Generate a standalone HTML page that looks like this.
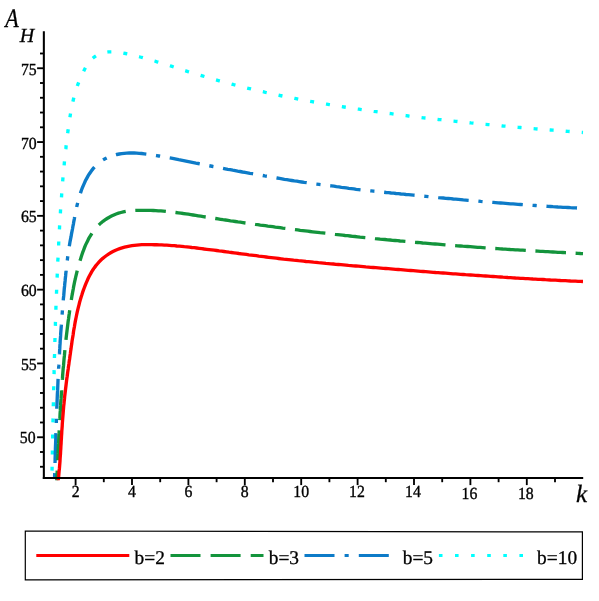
<!DOCTYPE html>
<html><head><meta charset="utf-8"><title>A_H vs k</title>
<style>html,body{margin:0;padding:0;background:#fff}body{width:599px;height:601px;overflow:hidden;font-family:"Liberation Serif",serif}</style>
</head><body>
<svg width="599" height="601" viewBox="0 0 599 601" style="display:block" text-rendering="geometricPrecision">
<rect width="599" height="601" fill="#fff"/>
<defs><clipPath id="cp"><rect x="44" y="20" width="540" height="460.2"/></clipPath></defs>
<g clip-path="url(#cp)"><path d="M51.8,481.0 L51.9,478.5 L51.9,476.0 L52.0,473.5 L52.0,471.0 L52.1,468.5 L52.1,466.0 L52.2,463.5 L52.2,461.0 L52.3,458.5 L52.3,456.0 L52.4,453.5 L52.4,450.9 L52.5,448.4 L52.5,445.9 L52.6,443.4 L52.6,440.9 L52.7,438.4 L52.7,435.9 L52.7,433.4 L52.8,430.9 L52.8,428.4 L52.9,425.9 L52.9,423.4 L53.0,420.9 L53.1,418.4 L53.1,415.9 L53.2,413.4 L53.2,410.9 L53.3,408.4 L53.3,405.9 L53.4,403.4 L53.4,400.9 L53.5,398.4 L53.5,395.9 L53.6,393.4 L53.6,390.9 L53.7,388.4 L53.8,385.9 L53.8,383.4 L53.9,380.9 L53.9,378.4 L54.0,375.9 L54.1,373.4 L54.1,370.9 L54.2,368.4 L54.2,365.9 L54.3,363.4 L54.4,360.9 L54.4,358.4 L54.5,355.9 L54.6,353.4 L54.6,350.9 L54.7,348.3 L54.8,345.8 L54.8,343.3 L54.9,340.8 L55.0,338.3 L55.1,335.8 L55.1,333.3 L55.2,330.8 L55.3,328.3 L55.4,325.8 L55.4,323.3 L55.5,320.8 L55.6,318.3 L55.7,315.8 L55.8,313.3 L55.9,310.8 L55.9,308.3 L56.0,305.8 L56.1,303.3 L56.2,300.8 L56.3,298.3 L56.4,295.8 L56.5,293.3 L56.6,290.8 L56.7,288.3 L56.8,285.8 L56.9,283.3 L57.0,280.8 L57.1,278.3 L57.2,275.8 L57.3,273.3 L57.4,270.8 L57.5,268.3 L57.6,265.8 L57.7,263.3 L57.8,260.8 L58.0,258.3 L58.1,255.8 L58.2,253.3 L58.3,250.8 L58.4,248.3 L58.6,245.8 L58.7,243.3 L58.8,240.8 L58.9,238.3 L59.1,235.8 L59.2,233.3 L59.3,230.8 L59.5,228.3 L59.6,225.8 L59.8,223.3 L59.9,220.8 L60.1,218.3 L60.2,215.8 L60.4,213.3 L60.5,210.8 L60.7,208.3 L60.9,205.8 L61.0,203.3 L61.2,200.8 L61.4,198.3 L61.6,195.8 L61.7,193.3 L61.9,190.8 L62.1,188.3 L62.3,185.8 L62.5,183.3 L62.7,180.9 L62.9,178.4 L63.1,175.9 L63.4,173.4 L63.6,170.9 L63.8,168.4 L64.1,165.9 L64.3,163.4 L64.5,160.9 L64.8,158.4 L65.0,155.9 L65.3,153.4 L65.6,151.0 L65.9,148.5 L66.1,146.0 L66.4,143.5 L66.7,141.0 L67.0,138.5 L67.3,136.0 L67.6,133.6 L68.0,131.1 L68.3,128.6 L68.6,126.1 L69.0,123.6 L69.3,121.2 L69.7,118.7 L70.1,116.2 L70.5,113.7 L70.9,111.3 L71.4,108.8 L71.9,106.4 L72.4,103.9 L72.9,101.5 L73.5,99.0 L74.1,96.6 L74.8,94.2 L75.5,91.8 L76.2,89.4 L77.0,87.0 L77.8,84.6 L78.7,82.3 L79.6,80.0 L80.5,77.7 L81.6,75.4 L82.6,73.1 L83.8,70.9 L84.9,68.7 L86.2,66.5 L87.5,64.4 L89.0,62.3 L90.6,60.4 L92.3,58.6 L94.2,57.0 L96.3,55.6 L98.5,54.5 L100.8,53.5 L103.2,52.8 L105.7,52.3 L108.2,51.9 L110.7,51.8 L113.2,51.8 L115.7,51.9 L118.2,52.2 L120.6,52.6 L123.1,53.0 L125.5,53.5 L128.0,54.0 L130.4,54.6 L132.9,55.1 L135.3,55.7 L137.7,56.3 L140.2,57.0 L142.6,57.6 L145.0,58.3 L147.4,58.9 L149.8,59.6 L152.2,60.3 L154.6,61.0 L157.0,61.8 L159.4,62.5 L161.8,63.2 L164.2,64.0 L166.6,64.7 L169.0,65.5 L171.3,66.2 L173.7,67.0 L176.1,67.8 L178.5,68.5 L180.9,69.3 L183.3,70.1 L185.7,70.8 L188.0,71.6 L190.4,72.3 L192.8,73.0 L195.2,73.8 L197.6,74.5 L200.0,75.2 L202.4,75.9 L204.8,76.6 L207.2,77.3 L209.6,78.0 L212.0,78.7 L214.4,79.4 L216.8,80.1 L219.3,80.8 L221.7,81.4 L224.1,82.1 L226.5,82.7 L228.9,83.4 L231.3,84.0 L233.8,84.7 L236.2,85.3 L238.6,85.9 L241.0,86.5 L243.5,87.1 L245.9,87.7 L248.3,88.3 L250.8,88.9 L253.2,89.5 L255.6,90.1 L258.1,90.6 L260.5,91.2 L262.9,91.7 L265.4,92.3 L267.8,92.8 L270.3,93.4 L272.7,93.9 L275.2,94.4 L277.6,94.9 L280.1,95.5 L282.5,96.0 L285.0,96.5 L287.4,97.0 L289.9,97.5 L292.3,97.9 L294.8,98.4 L297.2,98.9 L299.7,99.4 L302.2,99.8 L304.6,100.3 L307.1,100.7 L309.6,101.2 L312.0,101.6 L314.5,102.1 L316.9,102.5 L319.4,102.9 L321.9,103.4 L324.3,103.8 L326.8,104.2 L329.3,104.6 L331.8,105.0 L334.2,105.4 L336.7,105.8 L339.2,106.2 L341.6,106.6 L344.1,107.0 L346.6,107.4 L349.1,107.8 L351.5,108.1 L354.0,108.5 L356.5,108.9 L359.0,109.2 L361.4,109.6 L363.9,110.0 L366.4,110.3 L368.9,110.7 L371.3,111.0 L373.8,111.4 L376.3,111.7 L378.8,112.1 L381.3,112.4 L383.7,112.7 L386.2,113.1 L388.7,113.4 L391.2,113.7 L393.7,114.1 L396.1,114.4 L398.6,114.7 L401.1,115.0 L403.6,115.3 L406.1,115.6 L408.6,116.0 L411.0,116.3 L413.5,116.6 L416.0,116.9 L418.5,117.2 L421.0,117.5 L423.5,117.8 L426.0,118.0 L428.4,118.3 L430.9,118.6 L433.4,118.9 L435.9,119.2 L438.4,119.5 L440.9,119.7 L443.4,120.0 L445.9,120.3 L448.3,120.6 L450.8,120.8 L453.3,121.1 L455.8,121.3 L458.3,121.6 L460.8,121.9 L463.3,122.1 L465.8,122.4 L468.3,122.6 L470.8,122.9 L473.2,123.1 L475.7,123.4 L478.2,123.6 L480.7,123.9 L483.2,124.1 L485.7,124.3 L488.2,124.6 L490.7,124.8 L493.2,125.1 L495.7,125.3 L498.2,125.5 L500.7,125.7 L503.1,126.0 L505.6,126.2 L508.1,126.4 L510.6,126.6 L513.1,126.9 L515.6,127.1 L518.1,127.3 L520.6,127.5 L523.1,127.7 L525.6,127.9 L528.1,128.2 L530.6,128.4 L533.1,128.6 L535.6,128.8 L538.1,129.0 L540.6,129.2 L543.0,129.4 L545.5,129.6 L548.0,129.8 L550.5,130.0 L553.0,130.2 L555.5,130.4 L558.0,130.6 L560.5,130.8 L563.0,131.0 L565.5,131.2 L568.0,131.4 L570.5,131.6 L573.0,131.8 L575.5,132.0 L578.0,132.2 L580.5,132.3 L583.0,132.5" fill="none" stroke="#00ffff" stroke-width="3.35" stroke-dasharray="4.00 12.09" stroke-dashoffset="-10.38"/><path d="M54.5,481.0 L54.6,478.5 L54.6,476.0 L54.7,473.5 L54.8,471.0 L54.8,468.5 L54.9,466.0 L55.0,463.5 L55.1,461.0 L55.1,458.5 L55.2,456.0 L55.3,453.5 L55.4,451.0 L55.4,448.5 L55.5,446.0 L55.6,443.5 L55.7,441.0 L55.8,438.4 L55.8,435.9 L55.9,433.4 L56.0,430.9 L56.1,428.4 L56.2,425.9 L56.3,423.4 L56.4,420.9 L56.4,418.4 L56.5,415.9 L56.6,413.4 L56.7,410.9 L56.8,408.4 L56.9,405.9 L57.0,403.4 L57.1,400.9 L57.2,398.4 L57.3,395.9 L57.4,393.4 L57.6,390.9 L57.7,388.4 L57.8,385.9 L57.9,383.4 L58.0,380.9 L58.1,378.4 L58.3,375.9 L58.4,373.4 L58.5,370.9 L58.6,368.4 L58.8,365.9 L58.9,363.4 L59.0,360.9 L59.2,358.4 L59.3,355.9 L59.5,353.4 L59.6,350.9 L59.8,348.4 L59.9,345.9 L60.1,343.4 L60.2,340.9 L60.4,338.4 L60.6,335.9 L60.7,333.4 L60.9,330.9 L61.1,328.4 L61.3,325.9 L61.4,323.4 L61.6,320.9 L61.8,318.4 L62.0,315.9 L62.2,313.4 L62.4,310.9 L62.6,308.4 L62.8,305.9 L63.0,303.4 L63.2,301.0 L63.4,298.5 L63.7,296.0 L63.9,293.5 L64.1,291.0 L64.3,288.5 L64.6,286.0 L64.8,283.5 L65.1,281.0 L65.3,278.5 L65.6,276.0 L65.8,273.5 L66.1,271.0 L66.3,268.6 L66.6,266.1 L66.9,263.6 L67.2,261.1 L67.5,258.6 L67.8,256.1 L68.1,253.6 L68.5,251.2 L68.9,248.7 L69.3,246.2 L69.7,243.7 L70.1,241.3 L70.6,238.8 L71.1,236.4 L71.5,233.9 L72.0,231.4 L72.5,229.0 L72.9,226.5 L73.4,224.1 L73.8,221.6 L74.3,219.1 L74.7,216.7 L75.2,214.2 L75.7,211.7 L76.2,209.3 L76.7,206.9 L77.3,204.4 L77.9,202.0 L78.5,199.6 L79.2,197.1 L79.9,194.8 L80.7,192.4 L81.5,190.0 L82.4,187.7 L83.4,185.3 L84.4,183.1 L85.4,180.8 L86.6,178.6 L87.8,176.4 L89.1,174.2 L90.5,172.2 L92.0,170.1 L93.5,168.2 L95.2,166.3 L97.0,164.6 L98.9,162.9" fill="none" stroke="#0d7bc8" stroke-width="3.35" stroke-dasharray="29.90 10.11 4.20 10.11" stroke-dashoffset="-18.01"/><path d="M98.9,162.9 L100.8,161.4 L102.9,160.0 L105.1,158.7 L107.3,157.6 L109.6,156.6 L112.0,155.8 L114.4,155.1 L116.8,154.5 L119.3,154.0 L121.7,153.6 L124.2,153.3 L126.7,153.1 L129.2,153.0 L131.7,153.0 L134.2,153.0 L136.7,153.1 L139.2,153.3 L141.7,153.5 L144.2,153.8 L146.7,154.1 L149.1,154.4 L151.6,154.8 L154.1,155.2 L156.5,155.6 L159.0,156.0 L161.5,156.5 L163.9,156.9 L166.4,157.3 L168.9,157.8 L171.3,158.2 L173.8,158.7 L176.2,159.2 L178.7,159.7 L181.1,160.1 L183.6,160.6 L186.0,161.1 L188.5,161.6 L191.0,162.1 L193.4,162.6 L195.9,163.1 L198.3,163.5 L200.8,164.0 L203.2,164.5 L205.7,165.0 L208.1,165.5 L210.6,166.0 L213.0,166.5 L215.5,166.9 L217.9,167.4 L220.4,167.9 L222.9,168.3 L225.3,168.8 L227.8,169.3 L230.2,169.7 L232.7,170.2 L235.2,170.6 L237.6,171.1 L240.1,171.5 L242.5,172.0 L245.0,172.4 L247.5,172.8 L249.9,173.3 L252.4,173.7 L254.8,174.1 L257.3,174.6 L259.8,175.0 L262.2,175.4 L264.7,175.9 L267.2,176.3 L269.6,176.7 L272.1,177.2 L274.6,177.6 L277.0,178.0 L279.5,178.4 L282.0,178.8 L284.4,179.3 L286.9,179.7 L289.4,180.1 L291.8,180.5 L294.3,180.9 L296.8,181.2 L299.2,181.6 L301.7,182.0 L304.2,182.4 L306.7,182.7 L309.1,183.1 L311.6,183.4 L314.1,183.8 L316.6,184.1 L319.1,184.4 L321.5,184.7 L324.0,185.0 L326.5,185.3 L329.0,185.6 L331.5,185.9 L333.9,186.2 L336.4,186.6 L338.9,186.9 L341.4,187.3 L343.9,187.6 L346.3,187.9 L348.8,188.3 L351.3,188.6 L353.8,188.9 L356.2,189.3 L358.7,189.6 L361.2,189.9 L363.7,190.1 L366.2,190.4 L368.7,190.7 L371.2,190.9 L373.6,191.2 L376.1,191.4 L378.6,191.7 L381.1,192.0 L383.6,192.2 L386.1,192.5 L388.6,192.7 L391.1,193.0 L393.6,193.2 L396.0,193.5 L398.5,193.7 L401.0,194.0 L403.5,194.2 L406.0,194.5 L408.5,194.7 L411.0,194.9 L413.5,195.2 L415.9,195.4 L418.4,195.7 L420.9,195.9 L423.4,196.2 L425.9,196.4 L428.4,196.6 L430.9,196.9 L433.4,197.1 L435.9,197.3 L438.4,197.6 L440.8,197.8 L443.3,198.0 L445.8,198.3 L448.3,198.5 L450.8,198.7 L453.3,199.0 L455.8,199.2 L458.3,199.4 L460.8,199.6 L463.3,199.9 L465.8,200.1 L468.2,200.3 L470.7,200.5 L473.2,200.7 L475.7,200.9 L478.2,201.1 L480.7,201.4 L483.2,201.6 L485.7,201.8 L488.2,202.0 L490.7,202.2 L493.2,202.4 L495.7,202.6 L498.2,202.8 L500.6,203.0 L503.1,203.2 L505.6,203.4 L508.1,203.6 L510.6,203.8 L513.1,203.9 L515.6,204.1 L518.1,204.3 L520.6,204.5 L523.1,204.7 L525.6,204.8 L528.1,205.0 L530.6,205.2 L533.1,205.4 L535.6,205.5 L538.1,205.7 L540.6,205.9 L543.1,206.0 L545.5,206.2 L548.0,206.4 L550.5,206.5 L553.0,206.7 L555.5,206.8 L558.0,207.0 L560.5,207.1 L563.0,207.3 L565.5,207.4 L568.0,207.5 L570.5,207.7 L573.0,207.8 L575.5,207.9 L578.0,208.1 L580.5,208.2 L583.0,208.3" fill="none" stroke="#0d7bc8" stroke-width="3.35" stroke-dasharray="30.60 9.76 4.20 9.76" stroke-dashoffset="-19.06"/><path d="M56.7,481.0 L56.8,478.5 L57.0,476.0 L57.1,473.5 L57.2,471.0 L57.3,468.5 L57.5,466.0 L57.6,463.5 L57.7,461.0 L57.8,458.4 L57.9,455.9 L58.1,453.4 L58.2,450.9 L58.3,448.4 L58.4,445.9 L58.6,443.4 L58.7,440.9 L58.8,438.4 L58.9,435.9 L59.1,433.4 L59.2,430.9 L59.3,428.4 L59.5,425.9 L59.6,423.4 L59.7,420.9 L59.9,418.4 L60.0,415.9 L60.1,413.4 L60.3,410.9 L60.4,408.4 L60.6,405.9 L60.7,403.4 L60.9,400.9 L61.1,398.4 L61.2,395.9 L61.4,393.4 L61.6,390.9 L61.7,388.4 L61.9,385.9 L62.1,383.4 L62.3,380.9 L62.5,378.4 L62.6,375.9 L62.8,373.4 L63.0,370.9 L63.2,368.4 L63.5,365.9 L63.7,363.4 L63.9,360.9 L64.1,358.4 L64.4,355.9 L64.6,353.4 L64.8,350.9 L65.1,348.4 L65.3,345.9 L65.6,343.4 L65.9,340.9 L66.1,338.4 L66.4,335.9 L66.7,333.4 L67.0,330.9 L67.3,328.4 L67.6,326.0 L67.9,323.5 L68.2,321.0 L68.6,318.5 L68.9,316.0 L69.3,313.5 L69.6,311.1 L70.0,308.6 L70.3,306.1 L70.7,303.6 L71.1,301.1 L71.5,298.7 L71.9,296.2 L72.4,293.7 L72.8,291.3 L73.3,288.8 L73.7,286.3 L74.2,283.9 L74.7,281.4 L75.3,279.0 L75.8,276.5 L76.4,274.1 L77.0,271.6 L77.6,269.2 L78.3,266.8 L78.9,264.4 L79.6,262.0 L80.4,259.6 L81.1,257.2 L81.9,254.8 L82.7,252.4 L83.6,250.1 L84.5,247.7 L85.4,245.4 L86.5,243.1 L87.6,240.9 L88.7,238.6 L89.9,236.5 L91.3,234.3 L92.7,232.2 L94.1,230.2 L95.7,228.3" fill="none" stroke="#13943c" stroke-width="3.35" stroke-dasharray="29.90 10.35" stroke-dashoffset="-20.74"/><path d="M95.7,228.3 L97.4,226.4 L99.2,224.6 L101.0,222.9 L103.0,221.3 L105.0,219.9 L107.1,218.5 L109.3,217.2 L111.5,216.1 L113.8,215.0 L116.1,214.0 L118.5,213.2 L120.9,212.5 L123.3,211.9 L125.8,211.4 L128.2,211.0 L130.7,210.7 L133.2,210.5 L135.7,210.4 L138.3,210.3 L140.8,210.3 L143.3,210.3 L145.8,210.3 L148.3,210.3 L150.8,210.4 L153.3,210.5 L155.8,210.6 L158.3,210.8 L160.9,210.9 L163.4,211.1 L165.9,211.4 L168.4,211.6 L170.9,211.9 L173.4,212.2 L175.8,212.5 L178.3,212.8 L180.8,213.1 L183.3,213.5 L185.8,213.8 L188.3,214.2 L190.8,214.6 L193.2,215.0 L195.7,215.4 L198.2,215.8 L200.7,216.2 L203.2,216.6 L205.7,217.0 L208.1,217.3 L210.6,217.7 L213.1,218.1 L215.6,218.5 L218.1,218.9 L220.5,219.3 L223.0,219.7 L225.5,220.0 L228.0,220.4 L230.5,220.8 L233.0,221.1 L235.4,221.5 L237.9,221.9 L240.4,222.2 L242.9,222.6 L245.4,223.0 L247.9,223.3 L250.4,223.7 L252.9,224.0 L255.3,224.4 L257.8,224.7 L260.3,225.1 L262.8,225.4 L265.3,225.7 L267.8,226.1 L270.3,226.4 L272.8,226.7 L275.3,227.1 L277.7,227.4 L280.2,227.7 L282.7,228.1 L285.2,228.4 L287.7,228.7 L290.2,229.0 L292.7,229.3 L295.2,229.6 L297.7,229.9 L300.2,230.3 L302.7,230.6 L305.2,230.9 L307.7,231.2 L310.1,231.5 L312.6,231.8 L315.1,232.1 L317.6,232.4 L320.1,232.7 L322.6,232.9 L325.1,233.2 L327.6,233.5 L330.1,233.8 L332.6,234.1 L335.1,234.4 L337.6,234.6 L340.1,234.9 L342.6,235.2 L345.1,235.5 L347.6,235.7 L350.1,236.0 L352.6,236.3 L355.1,236.5 L357.6,236.8 L360.1,237.1 L362.6,237.3 L365.1,237.6 L367.6,237.8 L370.1,238.1 L372.6,238.3 L375.1,238.6 L377.6,238.8 L380.1,239.1 L382.6,239.3 L385.1,239.5 L387.6,239.8 L390.1,240.0 L392.6,240.3 L395.1,240.5 L397.6,240.7 L400.1,241.0 L402.6,241.2 L405.1,241.4 L407.6,241.6 L410.1,241.9 L412.6,242.1 L415.1,242.3 L417.6,242.5 L420.1,242.7 L422.6,243.0 L425.1,243.2 L427.6,243.4 L430.1,243.6 L432.6,243.8 L435.1,244.0 L437.6,244.2 L440.1,244.4 L442.6,244.6 L445.1,244.8 L447.6,245.0 L450.1,245.2 L452.6,245.4 L455.1,245.6 L457.6,245.8 L460.2,246.0 L462.7,246.2 L465.2,246.3 L467.7,246.5 L470.2,246.7 L472.7,246.9 L475.2,247.1 L477.7,247.3 L480.2,247.4 L482.7,247.6 L485.2,247.8 L487.7,248.0 L490.2,248.1 L492.7,248.3 L495.2,248.5 L497.7,248.6 L500.2,248.8 L502.7,249.0 L505.3,249.1 L507.8,249.3 L510.3,249.5 L512.8,249.6 L515.3,249.8 L517.8,249.9 L520.3,250.1 L522.8,250.2 L525.3,250.4 L527.8,250.6 L530.3,250.7 L532.8,250.9 L535.3,251.0 L537.9,251.1 L540.4,251.3 L542.9,251.4 L545.4,251.6 L547.9,251.7 L550.4,251.9 L552.9,252.0 L555.4,252.1 L557.9,252.3 L560.4,252.4 L562.9,252.5 L565.4,252.7 L567.9,252.8 L570.5,252.9 L573.0,253.1 L575.5,253.2 L578.0,253.3 L580.5,253.5 L583.0,253.6" fill="none" stroke="#13943c" stroke-width="3.35" stroke-dasharray="30.60 9.65" stroke-dashoffset="-4.54"/><path d="M58.1,481.0 L58.4,478.5 L58.7,476.0 L58.9,473.5 L59.1,471.0 L59.4,468.5 L59.6,466.0 L59.8,463.6 L60.0,461.1 L60.1,458.6 L60.3,456.1 L60.5,453.6 L60.6,451.1 L60.8,448.6 L60.9,446.1 L61.1,443.6 L61.2,441.1 L61.4,438.6 L61.5,436.1 L61.7,433.6 L61.8,431.1 L62.0,428.6 L62.2,426.1 L62.3,423.6 L62.5,421.1 L62.7,418.6 L62.9,416.1 L63.1,413.6 L63.3,411.1 L63.5,408.6 L63.7,406.1 L64.0,403.7 L64.2,401.2 L64.5,398.7 L64.7,396.2 L65.0,393.7 L65.3,391.2 L65.6,388.7 L65.9,386.2 L66.2,383.8 L66.5,381.3 L66.8,378.8 L67.2,376.3 L67.5,373.8 L67.8,371.4 L68.2,368.9 L68.5,366.4 L68.9,363.9 L69.2,361.4 L69.6,359.0 L69.9,356.5 L70.3,354.0 L70.6,351.5 L71.0,349.1 L71.3,346.6 L71.7,344.1 L72.0,341.6 L72.4,339.1 L72.8,336.7 L73.2,334.2 L73.5,331.7 L73.9,329.3 L74.4,326.8 L74.8,324.3 L75.2,321.9 L75.7,319.4 L76.2,317.0 L76.7,314.5 L77.2,312.1 L77.8,309.6 L78.4,307.2 L79.0,304.8 L79.6,302.3 L80.3,299.9 L81.0,297.5 L81.8,295.1 L82.5,292.8 L83.3,290.4 L84.2,288.0 L85.1,285.7 L86.0,283.4 L87.0,281.1 L88.0,278.8 L89.1,276.6 L90.3,274.3 L91.5,272.2 L92.8,270.0 L94.2,267.9 L95.7,265.9 L97.3,264.0 L98.9,262.1 L100.7,260.3 L102.5,258.6 L104.5,257.0 L106.5,255.5 L108.5,254.1 L110.7,252.8 L112.9,251.6 L115.1,250.5 L117.4,249.5 L119.7,248.6 L122.1,247.9 L124.5,247.2 L127.0,246.6 L129.4,246.1 L131.9,245.7 L134.4,245.3 L136.8,245.1 L139.3,244.9 L141.8,244.7 L144.3,244.6 L146.8,244.6 L149.3,244.6 L151.8,244.6 L154.3,244.7 L156.8,244.7 L159.3,244.8 L161.8,244.9 L164.3,245.1 L166.8,245.2 L169.3,245.4 L171.8,245.6 L174.3,245.7 L176.8,246.0 L179.3,246.2 L181.8,246.4 L184.3,246.7 L186.8,246.9 L189.3,247.2 L191.8,247.5 L194.2,247.7 L196.7,248.0 L199.2,248.3 L201.7,248.6 L204.2,249.0 L206.7,249.3 L209.1,249.6 L211.6,249.9 L214.1,250.2 L216.6,250.5 L219.1,250.9 L221.6,251.2 L224.0,251.5 L226.5,251.8 L229.0,252.2 L231.5,252.5 L234.0,252.8 L236.4,253.1 L238.9,253.5 L241.4,253.8 L243.9,254.1 L246.4,254.4 L248.8,254.8 L251.3,255.1 L253.8,255.4 L256.3,255.7 L258.8,256.1 L261.2,256.4 L263.7,256.7 L266.2,257.0 L268.7,257.3 L271.2,257.6 L273.7,257.9 L276.2,258.2 L278.6,258.5 L281.1,258.8 L283.6,259.1 L286.1,259.3 L288.6,259.6 L291.1,259.9 L293.6,260.2 L296.0,260.4 L298.5,260.7 L301.0,260.9 L303.5,261.2 L306.0,261.5 L308.5,261.7 L311.0,261.9 L313.5,262.2 L316.0,262.4 L318.5,262.7 L320.9,262.9 L323.4,263.1 L325.9,263.4 L328.4,263.6 L330.9,263.8 L333.4,264.0 L335.9,264.3 L338.4,264.5 L340.9,264.7 L343.4,264.9 L345.9,265.1 L348.4,265.4 L350.9,265.6 L353.3,265.8 L355.8,266.0 L358.3,266.2 L360.8,266.4 L363.3,266.6 L365.8,266.9 L368.3,267.1 L370.8,267.3 L373.3,267.5 L375.8,267.7 L378.3,267.9 L380.8,268.1 L383.3,268.3 L385.8,268.5 L388.3,268.7 L390.7,268.9 L393.2,269.1 L395.7,269.3 L398.2,269.5 L400.7,269.7 L403.2,269.9 L405.7,270.1 L408.2,270.3 L410.7,270.5 L413.2,270.7 L415.7,270.9 L418.2,271.1 L420.7,271.3 L423.2,271.5 L425.7,271.7 L428.2,271.9 L430.7,272.1 L433.2,272.3 L435.6,272.5 L438.1,272.6 L440.6,272.8 L443.1,273.0 L445.6,273.2 L448.1,273.4 L450.6,273.6 L453.1,273.8 L455.6,273.9 L458.1,274.1 L460.6,274.3 L463.1,274.5 L465.6,274.7 L468.1,274.8 L470.6,275.0 L473.1,275.2 L475.6,275.4 L478.1,275.5 L480.6,275.7 L483.1,275.9 L485.6,276.0 L488.1,276.2 L490.6,276.4 L493.1,276.5 L495.6,276.7 L498.0,276.9 L500.5,277.0 L503.0,277.2 L505.5,277.3 L508.0,277.5 L510.5,277.6 L513.0,277.8 L515.5,278.0 L518.0,278.1 L520.5,278.3 L523.0,278.4 L525.5,278.6 L528.0,278.7 L530.5,278.8 L533.0,279.0 L535.5,279.1 L538.0,279.3 L540.5,279.4 L543.0,279.5 L545.5,279.7 L548.0,279.8 L550.5,280.0 L553.0,280.1 L555.5,280.2 L558.0,280.3 L560.5,280.5 L563.0,280.6 L565.5,280.7 L568.0,280.8 L570.5,281.0 L573.0,281.1 L575.5,281.2 L578.0,281.3 L580.5,281.4 L583.0,281.5" fill="none" stroke="#ff0000" stroke-width="3.35"/></g>
<g stroke="#000" stroke-width="2.05"><line x1="43.85" y1="31.2" x2="43.85" y2="479.02"/><line x1="42.83" y1="478.00" x2="583.2" y2="478.00"/></g>
<g stroke="#000" stroke-width="1.85"><line x1="40.00" y1="466.77" x2="43.85" y2="466.77"/><line x1="40.00" y1="452.01" x2="43.85" y2="452.01"/><line x1="37.10" y1="437.25" x2="43.85" y2="437.25"/><line x1="40.00" y1="422.49" x2="43.85" y2="422.49"/><line x1="40.00" y1="407.73" x2="43.85" y2="407.73"/><line x1="40.00" y1="392.97" x2="43.85" y2="392.97"/><line x1="40.00" y1="378.21" x2="43.85" y2="378.21"/><line x1="37.10" y1="363.45" x2="43.85" y2="363.45"/><line x1="40.00" y1="348.69" x2="43.85" y2="348.69"/><line x1="40.00" y1="333.93" x2="43.85" y2="333.93"/><line x1="40.00" y1="319.17" x2="43.85" y2="319.17"/><line x1="40.00" y1="304.41" x2="43.85" y2="304.41"/><line x1="37.10" y1="289.65" x2="43.85" y2="289.65"/><line x1="40.00" y1="274.89" x2="43.85" y2="274.89"/><line x1="40.00" y1="260.13" x2="43.85" y2="260.13"/><line x1="40.00" y1="245.37" x2="43.85" y2="245.37"/><line x1="40.00" y1="230.61" x2="43.85" y2="230.61"/><line x1="37.10" y1="215.85" x2="43.85" y2="215.85"/><line x1="40.00" y1="201.09" x2="43.85" y2="201.09"/><line x1="40.00" y1="186.33" x2="43.85" y2="186.33"/><line x1="40.00" y1="171.57" x2="43.85" y2="171.57"/><line x1="40.00" y1="156.81" x2="43.85" y2="156.81"/><line x1="37.10" y1="142.05" x2="43.85" y2="142.05"/><line x1="40.00" y1="127.29" x2="43.85" y2="127.29"/><line x1="40.00" y1="112.53" x2="43.85" y2="112.53"/><line x1="40.00" y1="97.77" x2="43.85" y2="97.77"/><line x1="40.00" y1="83.01" x2="43.85" y2="83.01"/><line x1="37.10" y1="68.25" x2="43.85" y2="68.25"/><line x1="40.00" y1="53.49" x2="43.85" y2="53.49"/><line x1="75.60" y1="478.00" x2="75.60" y2="485.10"/><line x1="103.80" y1="478.00" x2="103.80" y2="482.20"/><line x1="132.00" y1="478.00" x2="132.00" y2="485.10"/><line x1="160.20" y1="478.00" x2="160.20" y2="482.20"/><line x1="188.40" y1="478.00" x2="188.40" y2="485.10"/><line x1="216.60" y1="478.00" x2="216.60" y2="482.20"/><line x1="244.80" y1="478.00" x2="244.80" y2="485.10"/><line x1="273.00" y1="478.00" x2="273.00" y2="482.20"/><line x1="301.20" y1="478.00" x2="301.20" y2="485.10"/><line x1="329.40" y1="478.00" x2="329.40" y2="482.20"/><line x1="357.60" y1="478.00" x2="357.60" y2="485.10"/><line x1="385.80" y1="478.00" x2="385.80" y2="482.20"/><line x1="414.00" y1="478.00" x2="414.00" y2="485.10"/><line x1="442.20" y1="478.00" x2="442.20" y2="482.20"/><line x1="470.40" y1="478.00" x2="470.40" y2="485.10"/><line x1="498.60" y1="478.00" x2="498.60" y2="482.20"/><line x1="526.80" y1="478.00" x2="526.80" y2="485.10"/><line x1="555.00" y1="478.00" x2="555.00" y2="482.20"/></g>
<g font-family="'Liberation Serif',serif" font-size="16" fill="#000" stroke="#000" stroke-width="0.35" style="will-change:transform;filter:grayscale(1)"><text transform="translate(36.7,74.5) scale(0.985,1.06)" text-anchor="end">75</text><text transform="translate(36.7,149.3) scale(0.985,1.06)" text-anchor="end">70</text><text transform="translate(36.7,221.7) scale(0.985,1.06)" text-anchor="end">65</text><text transform="translate(36.7,295.9) scale(0.985,1.06)" text-anchor="end">60</text><text transform="translate(36.7,370.3) scale(0.985,1.06)" text-anchor="end">55</text><text transform="translate(35.6,442.6) scale(0.985,1.06)" text-anchor="end">50</text><text transform="translate(75.6,496.9) scale(0.985,1.06)" text-anchor="middle">2</text><text transform="translate(132.0,496.9) scale(0.985,1.06)" text-anchor="middle">4</text><text transform="translate(188.4,496.9) scale(0.985,1.06)" text-anchor="middle">6</text><text transform="translate(244.8,496.9) scale(0.985,1.06)" text-anchor="middle">8</text><text transform="translate(301.2,496.9) scale(0.985,1.06)" text-anchor="middle">10</text><text transform="translate(356.9,496.9) scale(0.985,1.06)" text-anchor="middle">12</text><text transform="translate(413.0,496.9) scale(0.985,1.06)" text-anchor="middle">14</text><text transform="translate(469.4,499.0) scale(0.985,1.06)" text-anchor="middle">16</text><text transform="translate(525.8,499.0) scale(0.985,1.06)" text-anchor="middle">18</text></g>
<g font-family="'Liberation Serif',serif" font-style="italic" fill="#000" stroke="#000" stroke-width="0.3" style="will-change:transform;filter:grayscale(1)"><text transform="translate(5.3,27) scale(0.83,1)" font-size="26.5">A</text><text x="19.8" y="41.5" font-size="20">H</text><text x="576.1" y="501.5" font-size="25">k</text></g>
<path d="M25.3,531 L582.4,531.9 L582.4,579.3 L25.3,579.9 Z" fill="none" stroke="#000" stroke-width="1.2"/><line x1="36.3" y1="555.5" x2="129.3" y2="555.5" stroke="#ff0000" stroke-width="3.00"/><line x1="170.5" y1="555.5" x2="263.5" y2="555.5" stroke="#13943c" stroke-width="3.00" stroke-dasharray="30 10.1"/><line x1="304.5" y1="555.5" x2="397.5" y2="555.5" stroke="#0d7bc8" stroke-width="3.00" stroke-dasharray="30 10.1 4.1 10.1"/><line x1="438.9" y1="555.5" x2="531.9" y2="555.5" stroke="#00ffff" stroke-width="3.00" stroke-dasharray="3.6 12.5"/><g font-family="'Liberation Serif',serif" font-size="19.4" fill="#000" stroke="#000" stroke-width="0.3" style="will-change:transform;filter:grayscale(1)"><text x="134.5" y="563.6">b=2</text><text x="268.7" y="563.6">b=3</text><text x="402.7" y="563.6">b=5</text><text x="537.1" y="563.6">b=10</text></g>
</svg>
</body></html>
